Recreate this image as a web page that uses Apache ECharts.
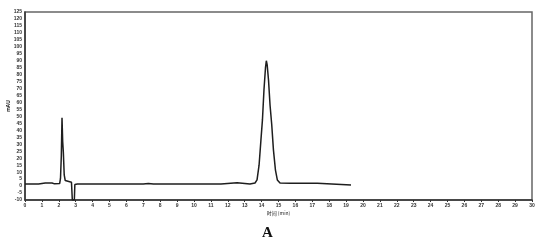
<!DOCTYPE html>
<html>
<head>
<meta charset="utf-8">
<script src="https://cdn.jsdelivr.net/npm/echarts@6/dist/echarts.min.js"></script>
<style>
html,body{margin:0;padding:0;background:#fff;}
#chart{width:549px;height:248px;}
</style>
</head>
<body>
<div id="chart"></div>
<script>
// Retention time (min)
var times = [0, 0.8, 1.2, 1.6, 1.75, 2.05, 2.1, 2.15, 2.19, 2.23, 2.27, 2.32, 2.38, 2.45, 2.75, 2.79, 2.8, 2.92, 2.95, 3.1,
  7.0, 7.3, 7.6, 11.6, 11.66, 12.55, 12.6, 13.31, 13.61, 13.73, 13.85, 13.96, 14.05, 14.14, 14.23, 14.28, 14.33,
  14.41, 14.5, 14.6, 14.7, 14.82, 14.93, 15.09, 15.68, 17.3, 17.36, 19.29];
// Detector response (mAU)
var signal = [1.5, 1.5, 2.2, 2.2, 1.6, 1.8, 5.5, 22, 49, 32, 24, 8, 4, 2.9, 2.8, 2.8, -10, -10, 1.2, 1.5,
  1.5, 1.9, 1.5, 1.5, 2.4, 2.4, 1.5, 1.5, 2.2, 4.4, 15, 33, 47.5, 69, 85, 90, 87,
  76, 58, 44, 26, 11.5, 4.4, 2.2, 2.0, 2.0, 0.8, 0.8];
var xTicks = {min: 0, max: 30, interval: 1};
var yTicks = {min: -10, max: 125, interval: 5};
var xName = '时间 (min)';
var yName = 'mAU';
var panelLabel = 'A';

var data = times.map(function (t, i) { return [t, signal[i]]; });

var chart = echarts.init(document.getElementById('chart'), null, {renderer: 'canvas'});
chart.setOption({
  animation: false,
  backgroundColor: '#ffffff',
  grid: {left: 25, right: 17, top: 12, bottom: 48, containLabel: false, outerBoundsMode: 'none',
    show: true, borderColor: '#666', borderWidth: 1.5, backgroundColor: 'transparent'},
  xAxis: {
    type: 'value', min: xTicks.min, max: xTicks.max, interval: xTicks.interval,
    name: xName, nameLocation: 'middle', nameGap: 11, nameMoveOverlap: false,
    nameTextStyle: {fontSize: 5, color: '#222', fontFamily: 'Noto Sans CJK SC'},
    axisLine: {show: true, onZero: false, lineStyle: {color: '#333', width: 1.5}},
    axisTick: {show: true, length: 2, lineStyle: {color: '#333'}},
    axisLabel: {fontSize: 5, color: '#333', margin: 3, fontWeight: 'bold'},
    splitLine: {show: false}
  },
  yAxis: {
    type: 'value', min: yTicks.min, max: yTicks.max, interval: yTicks.interval,
    name: yName, nameLocation: 'middle', nameGap: 14, nameMoveOverlap: false,
    nameTextStyle: {fontSize: 5, color: '#222', fontWeight: 'bold'},
    axisLine: {show: true, onZero: false, lineStyle: {color: '#333', width: 1.5}},
    axisTick: {show: false},
    axisLabel: {fontSize: 5, color: '#333', margin: 3, fontWeight: 'bold'},
    splitLine: {show: false}
  },
  series: [{
    type: 'line', data: data, symbol: 'none', clip: true,
    lineStyle: {color: '#1e1e1e', width: 1.5}
  }],
  graphic: [{
    type: 'text', left: 262, top: 226,
    style: {text: panelLabel, font: 'bold 15px "Liberation Serif"', fill: '#111'}
  }]
});
</script>
</body>
</html>
